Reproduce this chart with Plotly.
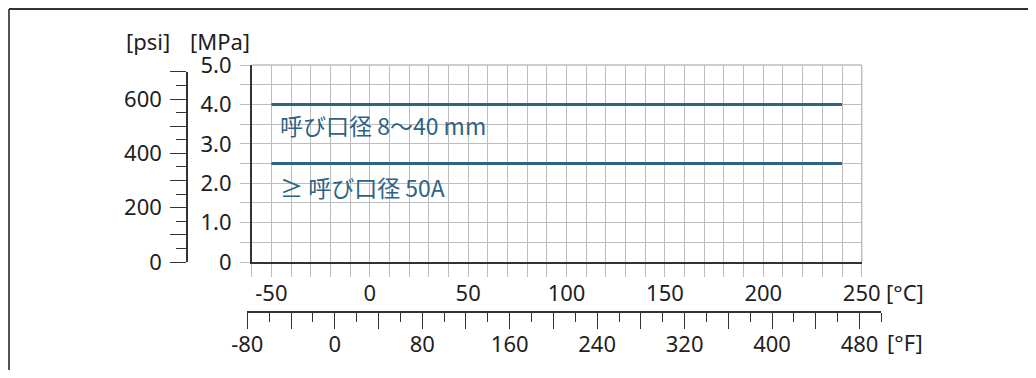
import plotly.graph_objects as go

# data
temp_c = [-50, 240]
mpa_8_40 = [4.0, 4.0]
mpa_50a = [2.5, 2.5]
label_8_40 = "呼び口径 8〜40 mm"
label_50a = "≥ 呼び口径 50A"

c_ticks = [-50, 0, 50, 100, 150, 200, 250]
c_ticktext = ["-50", "0", "50", "100", "150", "200", "250"]
mpa_ticks = [0, 1, 2, 3, 4, 5]
mpa_ticktext = ["0", "1.0", "2.0", "3.0", "4.0", "5.0"]
psi_ticks = [0, 100, 200, 300, 400, 500, 600, 700]
psi_ticktext = ["0", "", "200", "", "400", "", "600", ""]
f_ticks = [-80, -40, 0, 40, 80, 120, 160, 200, 240, 280, 320, 360, 400, 440, 480]
f_ticktext = ["-80", "", "0", "", "80", "", "160", "", "240", "", "320", "", "400", "", "480"]

PSI_PER_MPA = 145.038

# geometry: reference pixels -> paper fractions (page body adds 8px offset,
# figure kept small enough that the page does not overflow the window)
OFF = 8
W, H = 1036 - OFF, 378 - 2 * OFF
ML, MR, MT, MB = 92, 136, 57, 4
PW, PH = W - ML - MR, H - MT - MB


def fx(px):
    return (px - OFF - ML) / PW


def fy(py):
    return (H - MB - (py - OFF)) / PH


X0, X1 = 251.7, 861.7      # -60 .. 250 degC
Y0, Y1 = 262.0, 65.0       # 0 .. 5 MPa
pxc = (X1 - X0) / 310.0
pym = (Y0 - Y1) / 5.0


def c_to_px(c):
    return X0 + (c + 60) * pxc


f_lo, f_hi = -80, 500
fpx0 = c_to_px((f_lo - 32) / 1.8)
fpx1 = c_to_px((f_hi - 32) / 1.8)
psi_top = Y0 - 700 / PSI_PER_MPA * pym

TXT = "#1e1e1e"
GRID = "#bdbdbd"
AX = "#333333"
BLUE = "#2e6384"
FONT = "Noto Sans, sans-serif"

fig = go.Figure()
fig.add_trace(go.Scatter(x=temp_c, y=mpa_8_40, mode="lines",
                         line=dict(color=BLUE, width=3), hoverinfo="skip"))
fig.add_trace(go.Scatter(x=temp_c, y=mpa_50a, mode="lines",
                         line=dict(color=BLUE, width=3), hoverinfo="skip"))
# hidden traces so the secondary scales get drawn (paired with invisible axes)
fig.add_trace(go.Scatter(x=[c * 1.8 + 32 for c in temp_c], y=mpa_8_40, xaxis="x3", yaxis="y3",
                         mode="lines", line=dict(width=0), opacity=0, hoverinfo="skip"))
fig.add_trace(go.Scatter(x=temp_c, y=[v * PSI_PER_MPA for v in mpa_50a], xaxis="x4", yaxis="y2",
                         mode="lines", line=dict(width=0), opacity=0, hoverinfo="skip"))

for txt, yv in [(label_8_40, 3.48), (label_50a, 1.9)]:
    fig.add_annotation(x=-46.5, y=yv, text=txt, showarrow=False, xanchor="left",
                       yanchor="middle", font=dict(size=23, color=BLUE,
                                                   family="Noto Sans CJK JP, Noto Sans, sans-serif"))

for txt, x, y in [("[psi]", 148, 41), ("[MPa]", 220, 41), ("[°C]", 905, 292), ("[°F]", 905, 342)]:
    fig.add_annotation(x=fx(x), y=fy(y), xref="paper", yref="paper", text=txt, showarrow=False,
                       xanchor="center", yanchor="middle", font=dict(size=22, color=TXT))

# grid edges at 250 degC and 5.0 MPa
fig.add_shape(type="line", xref="x domain", yref="y domain", x0=0, x1=1, y0=1, y1=1,
              line=dict(color=GRID, width=1.5))
fig.add_shape(type="line", xref="x domain", yref="y domain", x0=1, x1=1, y0=0, y1=1,
              line=dict(color=GRID, width=1.5))

# frame
fig.add_shape(type="line", xref="paper", yref="paper", x0=fx(9), x1=fx(9), y0=fy(9), y1=fy(400),
              line=dict(color="#555555", width=2))
fig.add_shape(type="line", xref="paper", yref="paper", x0=fx(9), x1=fx(1050), y0=fy(9), y1=fy(9),
              line=dict(color=AX, width=2))

fig.update_layout(
    width=W, height=H,
    margin=dict(l=ML, r=MR, t=MT, b=MB, autoexpand=False),
    paper_bgcolor="white", plot_bgcolor="rgba(0,0,0,0)",
    showlegend=False,
    font=dict(family=FONT, size=22, color=TXT),
    xaxis=dict(
        domain=[fx(X0), fx(X1)], range=[-60, 250], anchor="y", automargin=False,
        tickvals=c_ticks, ticktext=c_ticktext, ticks="outside", ticklen=13, tickcolor=GRID,
        tickwidth=1, showgrid=True, gridcolor=GRID, gridwidth=1, zeroline=False,
        showline=True, linecolor=AX, linewidth=1.5,
        minor=dict(dtick=10, tick0=-60, showgrid=True, gridcolor=GRID, ticks="outside",
                   ticklen=13, tickcolor=GRID),
        ticklabelstandoff=-2,
    ),
    yaxis=dict(
        domain=[fy(Y0), fy(Y1)], range=[0, 5], anchor="x", automargin=False,
        tickvals=mpa_ticks, ticktext=mpa_ticktext, ticks="outside", ticklen=10,
        tickcolor=GRID, showgrid=True, gridcolor=GRID, zeroline=False,
        showline=True, linecolor=AX, linewidth=1.5,
        minor=dict(dtick=0.5, tick0=0, showgrid=True, gridcolor=GRID, ticks="outside",
                   ticklen=10, tickcolor=GRID),
        ticklabelstandoff=4,
    ),
    yaxis2=dict(
        domain=[fy(Y0), fy(psi_top)], range=[0, 700], anchor="free", position=fx(187),
        automargin=False,
        side="left", tickvals=psi_ticks, ticktext=psi_ticktext, ticks="outside", ticklen=16,
        tickcolor=AX, showgrid=False, zeroline=False,
        showline=True, linecolor=AX, linewidth=1.5,
        minor=dict(dtick=50, tick0=0, ticks="outside", ticklen=10, tickcolor=AX, showgrid=False),
        ticklabelstandoff=4,
    ),
    xaxis4=dict(domain=[0, 0.05], visible=False, anchor="y2", automargin=False),
    xaxis3=dict(
        domain=[fx(fpx0), fx(fpx1)], range=[f_lo, f_hi], anchor="free", position=fy(312),
        automargin=False,
        side="bottom", tickvals=f_ticks, ticktext=f_ticktext, ticks="outside", ticklen=16,
        tickcolor=AX, showgrid=False, zeroline=False,
        showline=True, linecolor=AX, linewidth=1.5,
        minor=dict(dtick=20, tick0=-80, ticks="outside", ticklen=9, tickcolor=AX, showgrid=False),
        ticklabelstandoff=-3,
    ),
    yaxis3=dict(domain=[0, 0.05], visible=False, anchor="x3", automargin=False),
)

fig.write_html("out.html")
